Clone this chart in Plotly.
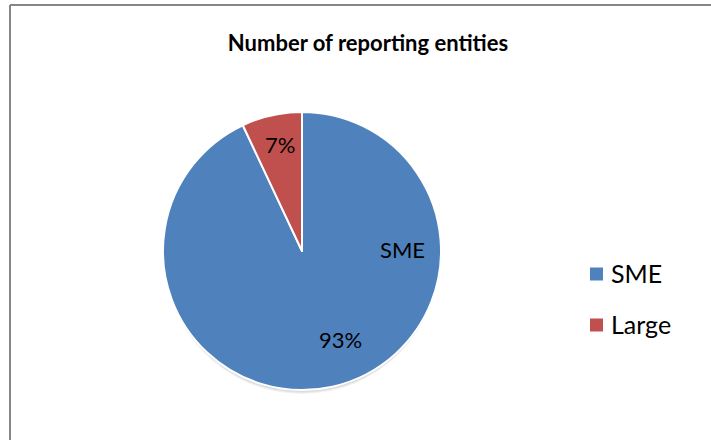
import math
import plotly.graph_objects as go

# Data
categories = ["SME", "Large"]
values = [93, 7]
colors = ["#4F81BD", "#C0504D"]
title_text = "Number of reporting entities"

W, H = 711, 440
cx, cy, R = 302, 251, 139  # pie centre and radius in pixels
FONT = "Lato, 'Open Sans', sans-serif"

fig = go.Figure()

fig.add_trace(go.Pie(
    labels=categories,
    values=values,
    sort=False,
    direction="clockwise",
    rotation=0,
    marker=dict(colors=colors, line=dict(color="white", width=2)),
    textinfo="none",
    hoverinfo="label+percent",
    showlegend=False,
    domain=dict(x=[(cx - R) / W, (cx + R) / W], y=[(H - cy - R) / H, (H - cy + R) / H]),
))

# Soft drop shadow under the pie
for i in range(4):
    off = 1 + i
    fig.add_shape(
        type="circle", xref="paper", yref="paper", layer="below",
        x0=(cx - R + 1) / W, x1=(cx + R - 1) / W,
        y0=(H - cy - R - off) / H, y1=(H - cy + R - off) / H,
        line=dict(width=0), fillcolor="rgba(0,0,0,0.05)",
    )

# Percentage labels placed along each slice's mid angle
total = sum(values)
label_font = dict(family=FONT, size=22, color="black")
radial = [0.72, 0.76]
shifts = [(17, 9), (1, 3)]  # fine placement of the label boxes (px)
cum = 0
for i, v in enumerate(values):
    mid = (cum + v / 2) / total * 2 * math.pi  # clockwise from top
    r = radial[i] * R
    px = cx + r * math.sin(mid)
    py = cy - r * math.cos(mid)
    fig.add_annotation(
        x=px / W, y=1 - py / H, xref="paper", yref="paper",
        text=f"{round(v / total * 100)}%", showarrow=False, font=label_font,
        xanchor="center", yanchor="middle",
        xshift=shifts[i][0], yshift=shifts[i][1],
    )
    cum += v

# Category name inside the large slice
fig.add_annotation(
    x=(cx + 0.72 * R) / W, y=1 - (cy - 2) / H, xref="paper", yref="paper",
    text=categories[0], showarrow=False, font=label_font,
    xanchor="center", yanchor="middle",
)

# Legend drawn as coloured squares with labels
leg_x, leg_y0, leg_dy, sq = 590, 274, 51, 13
for i, (name, col) in enumerate(zip(categories, colors)):
    y = leg_y0 + i * leg_dy
    fig.add_shape(
        type="rect", xref="paper", yref="paper",
        x0=leg_x / W, x1=(leg_x + sq) / W,
        y0=1 - (y + sq / 2) / H, y1=1 - (y - sq / 2) / H,
        fillcolor=col, line=dict(width=0),
    )
    fig.add_annotation(
        x=(leg_x + sq + 6) / W, y=1 - (y - 1) / H, xref="paper", yref="paper",
        text=name, showarrow=False,
        font=dict(family=FONT, size=25, color="black"),
        xanchor="left", yanchor="middle",
    )

# Chart frame (top and left edges)
fig.add_shape(type="line", xref="paper", yref="paper",
              x0=10 / W, x1=1.0, y0=1 - 5 / H, y1=1 - 5 / H,
              line=dict(color="#868686", width=2))
fig.add_shape(type="line", xref="paper", yref="paper",
              x0=10 / W, x1=10 / W, y0=0, y1=1 - 5 / H,
              line=dict(color="#868686", width=2))

fig.update_layout(
    width=W, height=H,
    margin=dict(l=0, r=0, t=0, b=0),
    paper_bgcolor="white", plot_bgcolor="white",
    title=dict(text=f"<b>{title_text}</b>", x=368 / W, xanchor="center",
               y=1 - 43 / H, yanchor="middle",
               font=dict(family=FONT, size=22, color="black")),
)

fig.write_html("out.html")
